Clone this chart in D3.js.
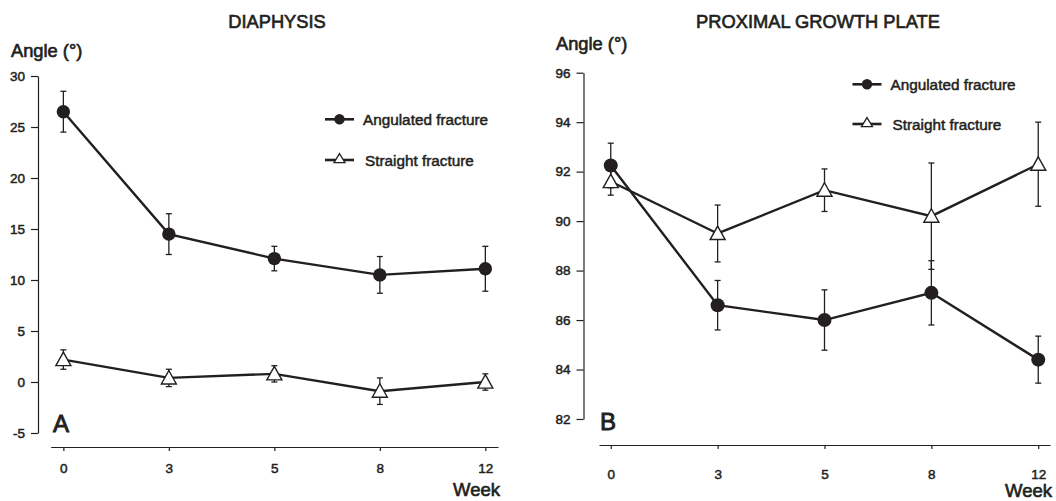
<!DOCTYPE html>
<html lang="en">
<head>
<meta charset="UTF-8">
<title>Angle by week</title>
<script src="https://d3js.org/d3.v7.min.js"></script>
<style>
    body { margin: 0; background: #fff; }
    svg { display: block; }
    text {
        font-family: "Liberation Sans", Arial, Helvetica, sans-serif;
        fill: #231f20;
        stroke: #231f20;
        stroke-width: 0.5px;
    }
    .axis path, .axis line { stroke: #231f20; stroke-width: 1.2px; }
</style>
</head>
<body>
<svg id="chart" width="1056" height="501"></svg>
<script>
    // Weeks after fracture (categorical, equally spaced)
    const weeks = ["0", "3", "5", "8", "12"];

    // Diaphysis angle (mean, SD)
    const diaAngulatedMean = [26.5, 14.5, 12.1, 10.5, 11.1];
    const diaAngulatedSd   = [2.0, 2.0, 1.2, 1.8, 2.2];
    const diaStraightMean  = [2.2, 0.4, 0.8, -0.9, 0.0];
    const diaStraightSd    = [0.95, 0.85, 0.8, 1.3, 0.8];
    const diaTicks = [-5, 0, 5, 10, 15, 20, 25, 30];

    // Proximal growth plate angle (mean, SD)
    const pgpAngulatedMean = [92.25, 86.6, 86.0, 87.1, 84.4];
    const pgpAngulatedSd   = [0.9, 1.0, 1.22, 1.3, 0.95];
    const pgpStraightMean  = [91.6, 89.5, 91.25, 90.2, 92.3];
    const pgpStraightSd    = [0.55, 1.15, 0.86, 2.15, 1.7];
    const pgpTicks = [82, 84, 86, 88, 90, 92, 94, 96];

    const seriesNames = ["Angulated fracture", "Straight fracture"];

    const svg = d3.select("#chart");
    const ink = "#231f20";

    function toPoints(means, sds) {
        return weeks.map((w, i) => ({ week: w, mean: means[i], sd: sds[i] }));
    }

    function trianglePath(cx, cy, w, h) {
        return `M${cx},${cy - h * 0.55}L${cx + w / 2},${cy + h * 0.45}L${cx - w / 2},${cy + h * 0.45}Z`;
    }

    function drawPanel(p) {
        const g = svg.append("g");

        const x = d3.scalePoint().domain(weeks).range(p.xRange).padding(p.xPad);
        const y = d3.scaleLinear().domain([p.ticks[0], p.ticks[p.ticks.length - 1]]).range(p.yRange);

        // y axis (plain hyphen for negatives, as in the original figure)
        const yAxis = g.append("g")
            .attr("class", "axis")
            .attr("transform", `translate(${p.yAxisX},0)`)
            .call(d3.axisLeft(y).tickValues(p.ticks).tickFormat(d => String(d))
                .tickSize(7).tickSizeOuter(0).tickPadding(6));
        yAxis.selectAll("text").style("font-size", "13.5px");

        // x axis
        const xAxis = g.append("g")
            .attr("class", "axis")
            .attr("transform", `translate(0,${p.xAxisY})`)
            .call(d3.axisBottom(x).tickSize(4).tickSizeOuter(0).tickPadding(p.xTickPad));
        xAxis.selectAll("text").style("font-size", "13.5px");

        // titles
        g.append("text")
            .attr("x", p.titleX).attr("y", 28)
            .attr("text-anchor", "middle")
            .style("font-size", "18.3px")
            .style("stroke-width", "0.65px")
            .text(p.title);

        g.append("text")
            .attr("x", p.angleX).attr("y", p.angleY)
            .style("font-size", "18.3px")
            .style("stroke-width", "0.65px")
            .text("Angle (°)");

        g.append("text")
            .attr("x", p.xRange[1] + 2).attr("y", p.weekY)
            .attr("text-anchor", "end")
            .style("font-size", "18.5px")
            .style("stroke-width", "0.65px")
            .text("Week");

        g.append("text")
            .attr("x", p.letterX).attr("y", p.letterY)
            .style("font-size", "24px")
            .style("stroke-width", "0.9px")
            .text(p.letter);

        const line = d3.line().x(d => x(d.week)).y(d => y(d.mean));

        p.series.forEach((s, si) => {
            const sg = g.append("g");

            sg.append("path")
                .datum(s.points)
                .attr("fill", "none")
                .attr("stroke", ink)
                .attr("stroke-width", 2.4)
                .attr("d", line);

            // error bars
            const eb = sg.selectAll(".eb").data(s.points).enter().append("g");
            eb.append("line")
                .attr("x1", d => x(d.week)).attr("x2", d => x(d.week))
                .attr("y1", d => y(d.mean - d.sd)).attr("y2", d => y(d.mean + d.sd))
                .attr("stroke", ink).attr("stroke-width", 1.3);
            eb.append("line")
                .attr("x1", d => x(d.week) - 3).attr("x2", d => x(d.week) + 3)
                .attr("y1", d => y(d.mean + d.sd)).attr("y2", d => y(d.mean + d.sd))
                .attr("stroke", ink).attr("stroke-width", 1.3);
            eb.append("line")
                .attr("x1", d => x(d.week) - 3).attr("x2", d => x(d.week) + 3)
                .attr("y1", d => y(d.mean - d.sd)).attr("y2", d => y(d.mean - d.sd))
                .attr("stroke", ink).attr("stroke-width", 1.3);

            // markers
            if (s.marker === "circle") {
                sg.selectAll("circle").data(s.points).enter().append("circle")
                    .attr("cx", d => x(d.week)).attr("cy", d => y(d.mean))
                    .attr("r", p.circleR)
                    .attr("fill", ink);
            } else {
                sg.selectAll(".tri").data(s.points).enter().append("path")
                    .attr("d", d => trianglePath(x(d.week), y(d.mean), 15, 13.5))
                    .attr("fill", "#fff")
                    .attr("stroke", ink)
                    .attr("stroke-width", 1.4);
            }

            // legend
            const ly = p.legendY[si];
            const lx = p.legendX;
            g.append("line")
                .attr("x1", lx).attr("x2", lx + 29)
                .attr("y1", ly).attr("y2", ly)
                .attr("stroke", ink).attr("stroke-width", 2.6);
            if (s.marker === "circle") {
                g.append("circle").attr("cx", lx + 14.5).attr("cy", ly).attr("r", 5.2).attr("fill", ink);
            } else {
                g.append("path")
                    .attr("d", trianglePath(lx + 14.5, ly - 1.5, 11, 9))
                    .attr("fill", "#fff").attr("stroke", ink).attr("stroke-width", 1.3);
            }
            g.append("text")
                .attr("x", lx + 38 + si * 2).attr("y", ly + 5.5)
                .style("font-size", "15.3px")
                .text(s.name);
        });
    }

    drawPanel({
        title: "DIAPHYSIS", titleX: 277,
        letter: "A", letterX: 53, letterY: 432,
        angleX: 11, angleY: 57,
        ticks: diaTicks, yRange: [433, 76], yAxisX: 38,
        xRange: [50.7, 498], xPad: 0.12, xAxisY: 447, xTickPad: 12,
        weekY: 496,
        circleR: 6.7,
        legendX: 325, legendY: [119.3, 160],
        series: [
            { name: seriesNames[0], marker: "circle", points: toPoints(diaAngulatedMean, diaAngulatedSd) },
            { name: seriesNames[1], marker: "triangle", points: toPoints(diaStraightMean, diaStraightSd) }
        ]
    });

    drawPanel({
        title: "PROXIMAL GROWTH PLATE", titleX: 818,
        letter: "B", letterX: 600, letterY: 430,
        angleX: 556, angleY: 50,
        ticks: pgpTicks, yRange: [419, 72.7], yAxisX: 583.5,
        xRange: [599, 1050], xPad: 0.11, xAxisY: 445, xTickPad: 20,
        weekY: 497,
        circleR: 7,
        legendX: 852.5, legendY: [84.3, 124],
        series: [
            { name: seriesNames[0], marker: "circle", points: toPoints(pgpAngulatedMean, pgpAngulatedSd) },
            { name: seriesNames[1], marker: "triangle", points: toPoints(pgpStraightMean, pgpStraightSd) }
        ]
    });
</script>
</body>
</html>
